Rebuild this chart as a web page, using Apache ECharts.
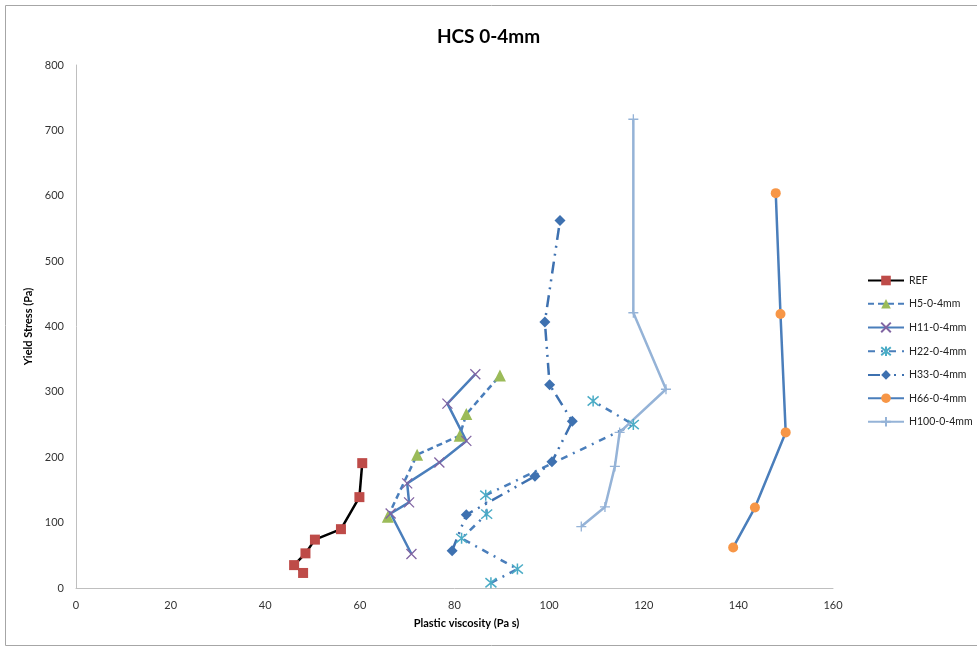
<!DOCTYPE html>
<html>
<head>
<meta charset="utf-8">
<script src="https://cdn.jsdelivr.net/npm/echarts@6/dist/echarts.min.js"></script>
<style>
html,body{margin:0;padding:0;background:#fff;}
#c{width:977px;height:646px;}
</style>
</head>
<body>
<div id="c"></div>
<script>
var seriesNames = ['REF','H5-0-4mm','H11-0-4mm','H22-0-4mm','H33-0-4mm','H66-0-4mm','H100-0-4mm'];
var refX = [48.0, 46.1, 48.5, 50.5, 56.0, 59.9, 60.5];
var refY = [23, 35, 53, 74, 90, 139, 191];
var h5X = [65.9, 72.1, 81.1, 82.5, 89.6];
var h5Y = [109, 204, 233, 266, 325];
var h11X = [70.9, 66.5, 70.4, 70.0, 76.8, 82.5, 78.5, 84.4];
var h11Y = [52, 114, 131, 160, 192, 225, 282, 327];
var h22X = [87.7, 93.3, 81.5, 86.8, 86.6, 117.8, 109.3];
var h22Y = [8, 29, 76, 113, 142, 250, 286];
var h33X = [79.5, 82.5, 97.0, 100.6, 104.9, 100.1, 99.1, 102.3];
var h33Y = [57, 112, 171, 193, 255, 311, 407, 562];
var h66X = [138.9, 143.5, 150.0, 148.9, 147.9];
var h66Y = [62, 123, 238, 419, 604];
var h100X = [106.8, 111.8, 113.9, 114.9, 124.7, 117.8, 117.8];
var h100Y = [94, 124, 186, 238, 304, 421, 717];
var xTicks = [0, 20, 40, 60, 80, 100, 120, 140, 160];
var yTicks = [0, 100, 200, 300, 400, 500, 600, 700, 800];

function pairs(xs, ys){ return xs.map(function(x,i){ return [x, ys[i]]; }); }

var FONT = 'Lato, "Open Sans", sans-serif';
var crossSym = 'path://M0,0L10,10M10,0L0,10';
var starSym = 'path://M0,0L10,10M10,0L0,10M5,-1L5,11';
var plusSym = 'path://M5,0L5,10M1,5L9,5';

var chart = echarts.init(document.getElementById('c'), null, {renderer:'canvas'});
chart.setOption({
  animation: false,
  backgroundColor: '#fff',
  graphic: [{
    type: 'rect', left: 3, top: 3, shape: {width: 972, height: 640},
    style: {fill: 'none', stroke: '#a6a6a6', lineWidth: 1}, silent: true
  }],
  title: {
    text: 'HCS 0-4mm', left: 'center', top: 22,
    textStyle: {fontFamily: FONT, fontSize: 19, fontWeight: 'bold', color: '#000'}
  },
  grid: {left: 76, right: 144, top: 65, bottom: 58},
  legend: {
    orient: 'vertical', left: 862, top: 270,
    itemWidth: 36, itemHeight: 12, itemGap: 12.3,
    textStyle: {fontFamily: FONT, fontSize: 10.5, color: '#222'},
    data: seriesNames
  },
  xAxis: {
    type: 'value', min: xTicks[0], max: xTicks[xTicks.length-1], interval: 20,
    name: 'Plastic viscosity (Pa s)', nameLocation: 'middle', nameGap: 30,
    nameTextStyle: {fontFamily: FONT, fontSize: 11, fontWeight: 'bold', color: '#000', padding:[0,0,0,24]},
    axisLine: {show: true, lineStyle: {color: '#bfbfbf', width: 1}},
    axisTick: {show: false},
    splitLine: {show: false},
    axisLabel: {fontFamily: FONT, fontSize: 11, color: '#333', margin: 12}
  },
  yAxis: {
    type: 'value', min: yTicks[0], max: yTicks[yTicks.length-1], interval: 100,
    name: 'Yield Stress (Pa)', nameLocation: 'middle', nameGap: 40,
    nameTextStyle: {fontFamily: FONT, fontSize: 11, fontWeight: 'bold', color: '#000'},
    axisLine: {show: true, lineStyle: {color: '#bfbfbf', width: 1}},
    axisTick: {show: false},
    splitLine: {show: false},
    axisLabel: {fontFamily: FONT, fontSize: 11, color: '#333', margin: 12}
  },
  series: [
    {name: seriesNames[0], type: 'line', data: pairs(refX, refY),
     lineStyle: {color: '#000', width: 2.5}, symbol: 'rect', symbolSize: 10,
     itemStyle: {color: '#be4b48'}},
    {name: seriesNames[1], type: 'line', data: pairs(h5X, h5Y),
     lineStyle: {color: '#4a7ebb', width: 2.5, type: [6,4]}, symbol: 'triangle', symbolSize: 12,
     itemStyle: {color: '#9bbb59'}},
    {name: seriesNames[2], type: 'line', data: pairs(h11X, h11Y),
     lineStyle: {color: '#4a7ebb', width: 2.5}, symbol: crossSym, symbolSize: 10,
     itemStyle: {color: 'rgba(0,0,0,0)', borderColor: '#8064a2', borderWidth: 1.3}},
    {name: seriesNames[3], type: 'line', data: pairs(h22X, h22Y),
     lineStyle: {color: '#4a7ebb', width: 2.5, type: [7,6,2,6]}, symbol: starSym, symbolSize: 11,
     itemStyle: {color: 'rgba(0,0,0,0)', borderColor: '#4bacc6', borderWidth: 1.5}},
    {name: seriesNames[4], type: 'line', data: pairs(h33X, h33Y),
     lineStyle: {color: '#3e71b0', width: 2.5, type: [12,6,2,6,2,6]}, symbol: 'diamond', symbolSize: 11,
     itemStyle: {color: '#3e71b0'}},
    {name: seriesNames[5], type: 'line', data: pairs(h66X, h66Y),
     lineStyle: {color: '#4a7ebb', width: 2.5}, symbol: 'circle', symbolSize: 10,
     itemStyle: {color: '#f79646'}},
    {name: seriesNames[6], type: 'line', data: pairs(h100X, h100Y),
     lineStyle: {color: '#95b3d7', width: 2.5}, symbol: plusSym, symbolSize: 10,
     itemStyle: {color: 'rgba(0,0,0,0)', borderColor: '#95b3d7', borderWidth: 1.3}}
  ]
});
</script>
</body>
</html>
